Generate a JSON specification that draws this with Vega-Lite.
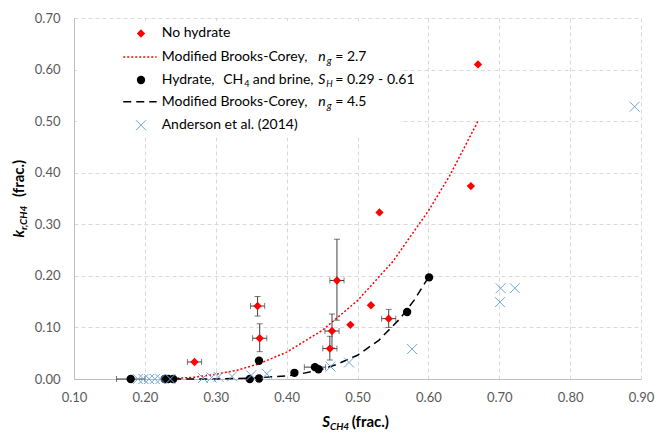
{
  "$schema": "https://vega.github.io/schema/vega-lite/v6.json",
  "width": 567,
  "height": 361,
  "autosize": {"type": "none"},
  "padding": {"left": 74, "top": 18, "right": 16, "bottom": 54},
  "background": "white",
  "config": {
    "view": {"stroke": null},
    "font": "Lato",
    "axis": {
      "grid": true, "gridColor": "#D9D9D9", "gridDash": [4, 3], "gridWidth": 1,
      "domainColor": "#BFBFBF", "domainWidth": 1, "ticks": false,
      "labelFont": "Lato", "labelFontSize": 13, "labelColor": "#595959",
      "labelFlush": false, "labelOverlap": false, "labelBound": false
    },
    "axisX": {"labelPadding": 12},
    "axisY": {"labelPadding": 14}
  },
  "datasets": {
    "nohyd": [
      {"S": 0.270, "k": 0.033, "xlo": 0.260, "xhi": 0.280, "ylo": null, "yhi": null},
      {"S": 0.359, "k": 0.1415, "xlo": 0.349, "xhi": 0.369, "ylo": 0.122, "yhi": 0.160},
      {"S": 0.362, "k": 0.079, "xlo": 0.352, "xhi": 0.372, "ylo": 0.053, "yhi": 0.107},
      {"S": 0.471, "k": 0.191, "xlo": 0.461, "xhi": 0.481, "ylo": 0.114, "yhi": 0.271},
      {"S": 0.464, "k": 0.093, "xlo": 0.454, "xhi": 0.474, "ylo": 0.060, "yhi": 0.126},
      {"S": 0.461, "k": 0.059, "xlo": 0.451, "xhi": 0.471, "ylo": 0.037, "yhi": 0.083},
      {"S": 0.490, "k": 0.105, "xlo": null, "xhi": null, "ylo": null, "yhi": null},
      {"S": 0.519, "k": 0.143, "xlo": null, "xhi": null, "ylo": null, "yhi": null},
      {"S": 0.531, "k": 0.323, "xlo": null, "xhi": null, "ylo": null, "yhi": null},
      {"S": 0.544, "k": 0.117, "xlo": 0.534, "xhi": 0.554, "ylo": 0.100, "yhi": 0.135},
      {"S": 0.660, "k": 0.374, "xlo": null, "xhi": null, "ylo": null, "yhi": null},
      {"S": 0.670, "k": 0.610, "xlo": null, "xhi": null, "ylo": null, "yhi": null}
    ],
    "hyd": [
      {"S": 0.180, "k": 0.000, "xlo": 0.160, "xhi": 0.200},
      {"S": 0.228, "k": 0.000, "xlo": null, "xhi": null},
      {"S": 0.233, "k": 0.000, "xlo": null, "xhi": null},
      {"S": 0.240, "k": 0.000, "xlo": null, "xhi": null},
      {"S": 0.348, "k": 0.000, "xlo": null, "xhi": null},
      {"S": 0.361, "k": 0.001, "xlo": null, "xhi": null},
      {"S": 0.361, "k": 0.0355, "xlo": null, "xhi": null},
      {"S": 0.411, "k": 0.012, "xlo": null, "xhi": null},
      {"S": 0.440, "k": 0.023, "xlo": 0.425, "xhi": 0.455},
      {"S": 0.445, "k": 0.019, "xlo": null, "xhi": null},
      {"S": 0.570, "k": 0.130, "xlo": null, "xhi": null},
      {"S": 0.601, "k": 0.197, "xlo": null, "xhi": null}
    ],
    "anderson": [
      {"S": 0.190, "k": 0.000}, {"S": 0.198, "k": 0.000}, {"S": 0.206, "k": 0.000},
      {"S": 0.214, "k": 0.000}, {"S": 0.222, "k": 0.000}, {"S": 0.236, "k": 0.000},
      {"S": 0.282, "k": 0.002}, {"S": 0.294, "k": 0.003}, {"S": 0.304, "k": 0.004},
      {"S": 0.323, "k": 0.005}, {"S": 0.350, "k": 0.007}, {"S": 0.372, "k": 0.010},
      {"S": 0.462, "k": 0.024}, {"S": 0.488, "k": 0.032}, {"S": 0.577, "k": 0.058},
      {"S": 0.701, "k": 0.149}, {"S": 0.702, "k": 0.176}, {"S": 0.722, "k": 0.176},
      {"S": 0.891, "k": 0.528}
    ],
    "bc27": [
      {"S": 0.24, "k": 0.001}, {"S": 0.27, "k": 0.0035}, {"S": 0.30, "k": 0.009},
      {"S": 0.33, "k": 0.017}, {"S": 0.36, "k": 0.029}, {"S": 0.40, "k": 0.052},
      {"S": 0.45, "k": 0.094}, {"S": 0.50, "k": 0.152}, {"S": 0.55, "k": 0.228},
      {"S": 0.60, "k": 0.326}, {"S": 0.63, "k": 0.394}, {"S": 0.67, "k": 0.500}
    ],
    "bc45": [
      {"S": 0.24, "k": 0.000}, {"S": 0.30, "k": 0.0002}, {"S": 0.35, "k": 0.0015},
      {"S": 0.40, "k": 0.006}, {"S": 0.42, "k": 0.010}, {"S": 0.45, "k": 0.019},
      {"S": 0.47, "k": 0.028}, {"S": 0.50, "k": 0.046}, {"S": 0.53, "k": 0.075},
      {"S": 0.56, "k": 0.117}, {"S": 0.58, "k": 0.153}, {"S": 0.60, "k": 0.197}
    ]
  },
  "layer": [
    {
      "data": {"name": "bc27"},
      "mark": {"type": "line", "color": "#FF0000", "strokeDash": [2, 2], "strokeWidth": 1.5},
      "encoding": {
        "x": {"field": "S", "type": "quantitative", "title": null,
              "scale": {"domain": [0.1, 0.9], "nice": false, "zero": false},
              "axis": {"values": [0.1, 0.2, 0.3, 0.4, 0.5, 0.6, 0.7, 0.8, 0.9], "format": ".2f", "title": null}},
        "y": {"field": "k", "type": "quantitative", "title": null,
              "scale": {"domain": [0, 0.7], "nice": false, "zero": true},
              "axis": {"values": [0, 0.1, 0.2, 0.3, 0.4, 0.5, 0.6, 0.7], "format": ".2f", "title": null}}
      }
    },
    {
      "data": {"values": [{}]},
      "mark": {"type": "rect", "fill": "white"},
      "encoding": {
        "x": {"datum": 0.1042, "type": "quantitative", "title": null},
        "x2": {"datum": 0.5598},
        "y": {"datum": 0.6938, "type": "quantitative", "title": null},
        "y2": {"datum": 0.4729}
      }
    },
    {
      "data": {"name": "nohyd"},
      "transform": [{"filter": "isValid(datum.ylo)"}],
      "mark": {"type": "errorbar", "ticks": {"size": 6}, "color": "#404040", "thickness": 1},
      "encoding": {
        "x": {"field": "S", "type": "quantitative", "title": null},
        "y": {"field": "ylo", "type": "quantitative", "title": null},
        "y2": {"field": "yhi"}
      }
    },
    {
      "data": {"name": "nohyd"},
      "transform": [{"filter": "isValid(datum.xlo)"}],
      "mark": {"type": "errorbar", "ticks": {"size": 6}, "color": "#404040", "thickness": 1},
      "encoding": {
        "x": {"field": "xlo", "type": "quantitative", "title": null},
        "x2": {"field": "xhi"},
        "y": {"field": "k", "type": "quantitative", "title": null}
      }
    },
    {
      "data": {"name": "nohyd"},
      "mark": {"type": "point", "shape": "diamond", "filled": true, "color": "#FF0000", "size": 70, "opacity": 1},
      "encoding": {
        "x": {"field": "S", "type": "quantitative", "title": null},
        "y": {"field": "k", "type": "quantitative", "title": null}
      }
    },
    {
      "data": {"name": "hyd"},
      "transform": [{"filter": "isValid(datum.xlo)"}],
      "mark": {"type": "errorbar", "ticks": {"size": 6}, "color": "#404040", "thickness": 1},
      "encoding": {
        "x": {"field": "xlo", "type": "quantitative", "title": null},
        "x2": {"field": "xhi"},
        "y": {"field": "k", "type": "quantitative", "title": null}
      }
    },
    {
      "data": {"name": "hyd"},
      "mark": {"type": "point", "shape": "circle", "filled": true, "color": "#000000", "size": 70, "opacity": 1},
      "encoding": {
        "x": {"field": "S", "type": "quantitative", "title": null},
        "y": {"field": "k", "type": "quantitative", "title": null}
      }
    },
    {
      "data": {"name": "bc45"},
      "mark": {"type": "line", "color": "#000000", "strokeDash": [8, 5], "strokeWidth": 1.5},
      "encoding": {
        "x": {"field": "S", "type": "quantitative", "title": null},
        "y": {"field": "k", "type": "quantitative", "title": null}
      }
    },
    {
      "data": {"name": "anderson"},
      "mark": {"type": "point", "shape": "M-1,-1L1,1M1,-1L-1,1", "filled": false, "color": "#6FA8DC", "strokeWidth": 1, "size": 100, "opacity": 1},
      "encoding": {
        "x": {"field": "S", "type": "quantitative", "title": null},
        "y": {"field": "k", "type": "quantitative", "title": null}
      }
    },
    {
      "data": {"values": [{}]},
      "mark": {"type": "point", "shape": "diamond", "filled": true, "color": "#FF0000", "size": 70, "opacity": 1},
      "encoding": {"x": {"datum": 0.1945, "type": "quantitative", "title": null}, "y": {"datum": 0.670, "type": "quantitative", "title": null}}
    },
    {
      "data": {"values": [{}]},
      "mark": {"type": "rule", "color": "#FF0000", "strokeDash": [2, 2], "strokeWidth": 1.5},
      "encoding": {"x": {"datum": 0.1695, "type": "quantitative", "title": null}, "x2": {"datum": 0.2166}, "y": {"datum": 0.6246, "type": "quantitative", "title": null}}
    },
    {
      "data": {"values": [{}]},
      "mark": {"type": "point", "shape": "circle", "filled": true, "color": "#000000", "size": 70, "opacity": 1},
      "encoding": {"x": {"datum": 0.1945, "type": "quantitative", "title": null}, "y": {"datum": 0.5798, "type": "quantitative", "title": null}}
    },
    {
      "data": {"values": [{}]},
      "mark": {"type": "rule", "color": "#000000", "strokeDash": [8, 5], "strokeWidth": 1.5},
      "encoding": {"x": {"datum": 0.1695, "type": "quantitative", "title": null}, "x2": {"datum": 0.2166}, "y": {"datum": 0.5374, "type": "quantitative", "title": null}}
    },
    {
      "data": {"values": [{}]},
      "mark": {"type": "point", "shape": "M-1,-1L1,1M1,-1L-1,1", "filled": false, "color": "#6FA8DC", "strokeWidth": 1, "size": 100, "opacity": 1},
      "encoding": {"x": {"datum": 0.1945, "type": "quantitative", "title": null}, "y": {"datum": 0.4922, "type": "quantitative", "title": null}}
    },
    {
      "data": {"values": [{}]},
      "mark": {"type": "text", "text": "No hydrate", "align": "left", "baseline": "middle", "fontSize": 14, "color": "#000000"},
      "encoding": {"x": {"datum": 0.2237, "type": "quantitative", "title": null}, "y": {"datum": 0.670, "type": "quantitative", "title": null}}
    },
    {
      "data": {"values": [{}]},
      "mark": {"type": "text", "text": "Modified Brooks-Corey,", "align": "left", "baseline": "middle", "fontSize": 14, "color": "#000000"},
      "encoding": {"x": {"datum": 0.2237, "type": "quantitative", "title": null}, "y": {"datum": 0.6246, "type": "quantitative", "title": null}}
    },
    {
      "data": {"values": [{}]},
      "mark": {"type": "text", "text": "n", "align": "left", "baseline": "middle", "fontSize": 14, "fontStyle": "italic", "dx": 156.6, "color": "#000000"},
      "encoding": {"x": {"datum": 0.2237, "type": "quantitative", "title": null}, "y": {"datum": 0.6246, "type": "quantitative", "title": null}}
    },
    {
      "data": {"values": [{}]},
      "mark": {"type": "text", "text": "g", "align": "left", "baseline": "middle", "fontSize": 10, "fontStyle": "italic", "dx": 165, "dy": 4, "color": "#000000"},
      "encoding": {"x": {"datum": 0.2237, "type": "quantitative", "title": null}, "y": {"datum": 0.6246, "type": "quantitative", "title": null}}
    },
    {
      "data": {"values": [{}]},
      "mark": {"type": "text", "text": "= 2.7", "align": "left", "baseline": "middle", "fontSize": 14, "dx": 173.5, "color": "#000000"},
      "encoding": {"x": {"datum": 0.2237, "type": "quantitative", "title": null}, "y": {"datum": 0.6246, "type": "quantitative", "title": null}}
    },
    {
      "data": {"values": [{}]},
      "mark": {"type": "text", "text": "Hydrate,", "align": "left", "baseline": "middle", "fontSize": 14, "color": "#000000"},
      "encoding": {"x": {"datum": 0.2237, "type": "quantitative", "title": null}, "y": {"datum": 0.5798, "type": "quantitative", "title": null}}
    },
    {
      "data": {"values": [{}]},
      "mark": {"type": "text", "text": "CH", "align": "left", "baseline": "middle", "fontSize": 14, "dx": 61.6, "color": "#000000"},
      "encoding": {"x": {"datum": 0.2237, "type": "quantitative", "title": null}, "y": {"datum": 0.5798, "type": "quantitative", "title": null}}
    },
    {
      "data": {"values": [{}]},
      "mark": {"type": "text", "text": "4", "align": "left", "baseline": "middle", "fontSize": 9, "dx": 82.5, "dy": 4, "color": "#000000"},
      "encoding": {"x": {"datum": 0.2237, "type": "quantitative", "title": null}, "y": {"datum": 0.5798, "type": "quantitative", "title": null}}
    },
    {
      "data": {"values": [{}]},
      "mark": {"type": "text", "text": "and brine,", "align": "left", "baseline": "middle", "fontSize": 14, "dx": 91, "color": "#000000"},
      "encoding": {"x": {"datum": 0.2237, "type": "quantitative", "title": null}, "y": {"datum": 0.5798, "type": "quantitative", "title": null}}
    },
    {
      "data": {"values": [{}]},
      "mark": {"type": "text", "text": "S", "align": "left", "baseline": "middle", "fontSize": 14, "fontStyle": "italic", "dx": 156.6, "color": "#000000"},
      "encoding": {"x": {"datum": 0.2237, "type": "quantitative", "title": null}, "y": {"datum": 0.5798, "type": "quantitative", "title": null}}
    },
    {
      "data": {"values": [{}]},
      "mark": {"type": "text", "text": "H", "align": "left", "baseline": "middle", "fontSize": 9, "fontStyle": "italic", "dx": 164.5, "dy": 4, "color": "#000000"},
      "encoding": {"x": {"datum": 0.2237, "type": "quantitative", "title": null}, "y": {"datum": 0.5798, "type": "quantitative", "title": null}}
    },
    {
      "data": {"values": [{}]},
      "mark": {"type": "text", "text": "= 0.29 - 0.61", "align": "left", "baseline": "middle", "fontSize": 14, "dx": 173.5, "color": "#000000"},
      "encoding": {"x": {"datum": 0.2237, "type": "quantitative", "title": null}, "y": {"datum": 0.5798, "type": "quantitative", "title": null}}
    },
    {
      "data": {"values": [{}]},
      "mark": {"type": "text", "text": "Modified Brooks-Corey,", "align": "left", "baseline": "middle", "fontSize": 14, "color": "#000000"},
      "encoding": {"x": {"datum": 0.2237, "type": "quantitative", "title": null}, "y": {"datum": 0.5374, "type": "quantitative", "title": null}}
    },
    {
      "data": {"values": [{}]},
      "mark": {"type": "text", "text": "n", "align": "left", "baseline": "middle", "fontSize": 14, "fontStyle": "italic", "dx": 156.6, "color": "#000000"},
      "encoding": {"x": {"datum": 0.2237, "type": "quantitative", "title": null}, "y": {"datum": 0.5374, "type": "quantitative", "title": null}}
    },
    {
      "data": {"values": [{}]},
      "mark": {"type": "text", "text": "g", "align": "left", "baseline": "middle", "fontSize": 10, "fontStyle": "italic", "dx": 165, "dy": 4, "color": "#000000"},
      "encoding": {"x": {"datum": 0.2237, "type": "quantitative", "title": null}, "y": {"datum": 0.5374, "type": "quantitative", "title": null}}
    },
    {
      "data": {"values": [{}]},
      "mark": {"type": "text", "text": "= 4.5", "align": "left", "baseline": "middle", "fontSize": 14, "dx": 173.5, "color": "#000000"},
      "encoding": {"x": {"datum": 0.2237, "type": "quantitative", "title": null}, "y": {"datum": 0.5374, "type": "quantitative", "title": null}}
    },
    {
      "data": {"values": [{}]},
      "mark": {"type": "text", "text": "Anderson et al. (2014)", "align": "left", "baseline": "middle", "fontSize": 14, "color": "#000000"},
      "encoding": {"x": {"datum": 0.2237, "type": "quantitative", "title": null}, "y": {"datum": 0.4922, "type": "quantitative", "title": null}}
    },
    {
      "data": {"values": [{}]},
      "mark": {"type": "text", "text": "S", "align": "right", "baseline": "alphabetic", "fontSize": 15, "fontWeight": "bold", "fontStyle": "italic", "color": "#000000"},
      "encoding": {"x": {"datum": 0.4611, "type": "quantitative", "title": null}, "y": {"datum": -0.094, "type": "quantitative", "title": null}}
    },
    {
      "data": {"values": [{}]},
      "mark": {"type": "text", "text": "CH4", "align": "left", "baseline": "alphabetic", "fontSize": 10, "fontWeight": "bold", "fontStyle": "italic", "dy": 3, "color": "#000000"},
      "encoding": {"x": {"datum": 0.4611, "type": "quantitative", "title": null}, "y": {"datum": -0.094, "type": "quantitative", "title": null}}
    },
    {
      "data": {"values": [{}]},
      "mark": {"type": "text", "text": "(frac.)", "align": "left", "baseline": "alphabetic", "fontSize": 15, "fontWeight": "bold", "dx": 21.7, "color": "#000000"},
      "encoding": {"x": {"datum": 0.4611, "type": "quantitative", "title": null}, "y": {"datum": -0.094, "type": "quantitative", "title": null}}
    },
    {
      "data": {"values": [{}]},
      "mark": {"type": "text", "text": "k", "align": "right", "baseline": "alphabetic", "angle": 270, "fontSize": 15, "fontWeight": "bold", "fontStyle": "italic", "color": "#000000"},
      "encoding": {"x": {"datum": 0.0295, "type": "quantitative", "title": null}, "y": {"datum": 0.2888, "type": "quantitative", "title": null}}
    },
    {
      "data": {"values": [{}]},
      "mark": {"type": "text", "text": "r,CH4", "align": "left", "baseline": "alphabetic", "angle": 270, "fontSize": 10, "fontWeight": "bold", "fontStyle": "italic", "dy": 3, "color": "#000000"},
      "encoding": {"x": {"datum": 0.0295, "type": "quantitative", "title": null}, "y": {"datum": 0.2888, "type": "quantitative", "title": null}}
    },
    {
      "data": {"values": [{}]},
      "mark": {"type": "text", "text": "(frac.)", "align": "left", "baseline": "alphabetic", "angle": 270, "fontSize": 15, "fontWeight": "bold", "dx": 33, "color": "#000000"},
      "encoding": {"x": {"datum": 0.0295, "type": "quantitative", "title": null}, "y": {"datum": 0.2888, "type": "quantitative", "title": null}}
    }
  ]
}
